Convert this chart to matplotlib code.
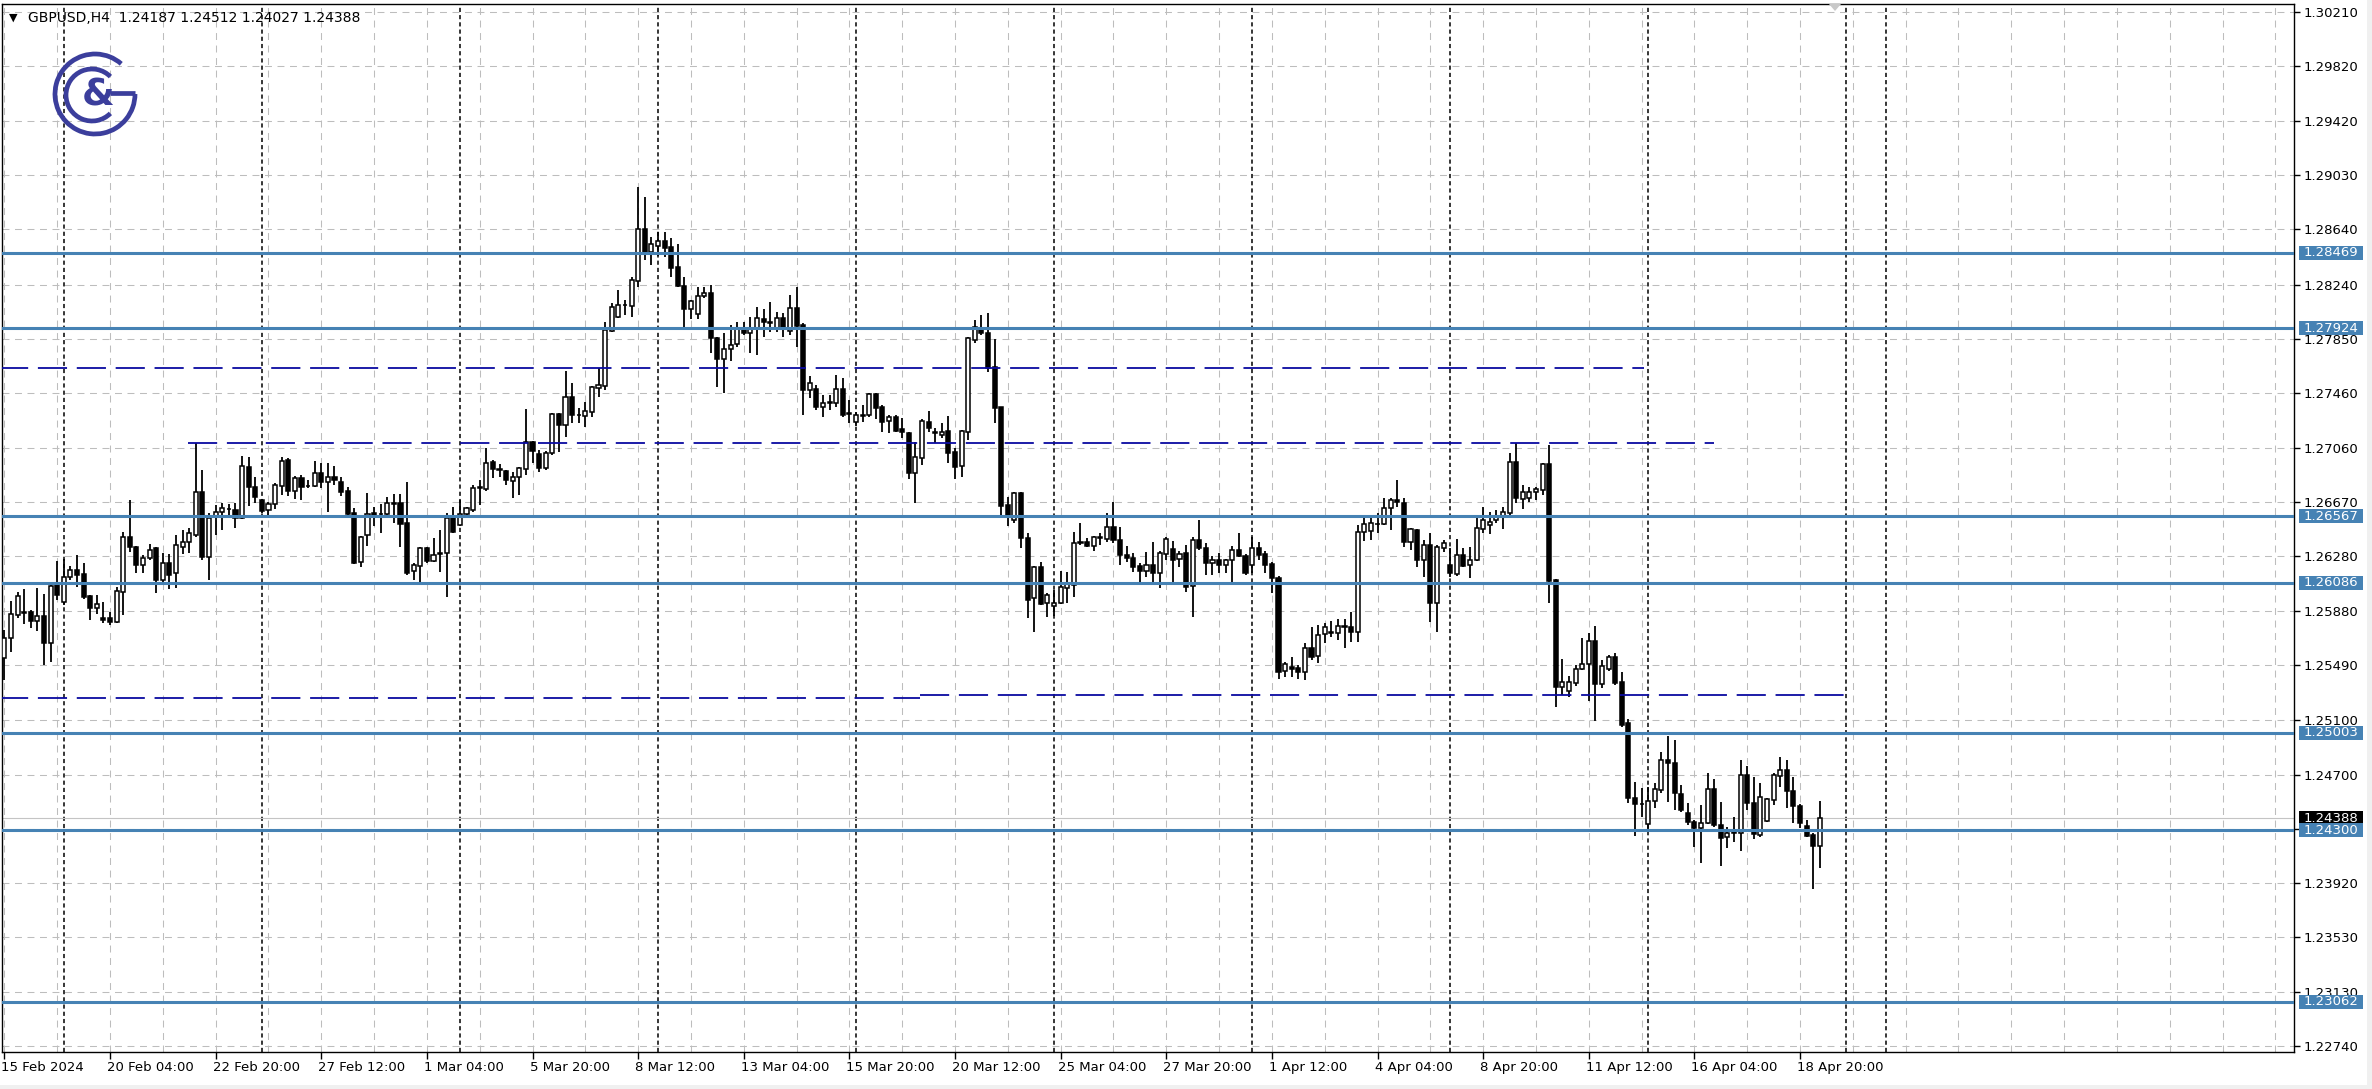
import matplotlib
matplotlib.use("Agg")
import matplotlib.pyplot as plt
import matplotlib.transforms as mtrans
from matplotlib.patches import Rectangle, Arc, Polygon
import numpy as np

plt.rcParams['font.family'] = ['DejaVu Sans']
plt.rcParams['lines.scale_dashes'] = False

# ---------------- data (GBPUSD H4) ----------------
opens = [
1.25542, 1.25691, 1.25855, 1.25876, 1.25876, 1.25811, 1.25847, 1.25655, 1.26076, 1.25951,
1.26131, 1.26179, 1.26151, 1.25992, 1.25908, 1.25835, 1.25831, 1.25807, 1.26023, 1.26420,
1.26348, 1.26216, 1.26264, 1.26341, 1.26107, 1.26228, 1.26155, 1.26348, 1.26384, 1.26432,
1.26745, 1.26276, 1.26564, 1.26601, 1.26617, 1.26613, 1.26552, 1.26925, 1.26776, 1.26685,
1.26613, 1.26656, 1.26788, 1.26973, 1.26752, 1.26841, 1.26788, 1.26786, 1.26882, 1.26817,
1.26848, 1.26817, 1.26752, 1.26589, 1.26235, 1.26432, 1.26589, 1.26581, 1.26584, 1.26658,
1.26661, 1.26516, 1.26172, 1.26208, 1.26336, 1.26247, 1.26297, 1.26300, 1.26552, 1.26504,
1.26584, 1.26613, 1.26781, 1.26764, 1.26959, 1.26908, 1.26896, 1.26824, 1.26848, 1.26908,
1.27101, 1.27017, 1.26913, 1.27022, 1.27303, 1.27226, 1.27431, 1.27301, 1.27291, 1.27322,
1.27491, 1.27508, 1.27907, 1.28008, 1.28090, 1.28085, 1.28268, 1.28638, 1.28477, 1.28518,
1.28554, 1.28508, 1.28364, 1.28232, 1.28061, 1.28027, 1.28157, 1.28181, 1.27852, 1.27700,
1.27775, 1.27811, 1.27929, 1.27893, 1.27921, 1.27991, 1.27970, 1.27917, 1.27996, 1.27907,
1.28068, 1.27948, 1.27479, 1.27484, 1.27354, 1.27390, 1.27382, 1.27484, 1.27315, 1.27250,
1.27298, 1.27298, 1.27450, 1.27354, 1.27257, 1.27281, 1.27195, 1.27171, 1.26882, 1.26985,
1.27250, 1.27176, 1.27154, 1.27185, 1.27034, 1.26930, 1.27178, 1.27840, 1.27924, 1.27893,
1.27647, 1.27354, 1.26646, 1.26540, 1.26733, 1.26408, 1.25975, 1.26199, 1.25939, 1.25920,
1.25939, 1.26047, 1.26071, 1.26379, 1.26384, 1.26355, 1.26418, 1.26401, 1.26487, 1.26396,
1.26288, 1.26264, 1.26208, 1.26175, 1.26216, 1.26155, 1.26295, 1.26329, 1.26256, 1.26300,
1.26064, 1.26396, 1.26336, 1.26228, 1.26252, 1.26216, 1.26252, 1.26324, 1.26280, 1.26216,
1.26336, 1.26295, 1.26223, 1.26124, 1.25453, 1.25482, 1.25474, 1.25446, 1.25614, 1.25559,
1.25717, 1.25730, 1.25722, 1.25773, 1.25766, 1.25734, 1.26456, 1.26463, 1.26509, 1.26509,
1.26625, 1.26685, 1.26665, 1.26384, 1.26468, 1.26252, 1.26360, 1.25939, 1.26336, 1.26216,
1.26151, 1.26288, 1.26216, 1.26252, 1.26473, 1.26504, 1.26540, 1.26564, 1.26593, 1.26957,
1.26690, 1.26697, 1.26740, 1.26757, 1.26945, 1.26107, 1.25333, 1.25308, 1.25361, 1.25462,
1.25501, 1.25667, 1.25357, 1.25462, 1.25549, 1.25373, 1.25073, 1.24536, 1.24493, 1.24346,
1.24514, 1.24591, 1.24808, 1.24784, 1.24563, 1.24428, 1.24363, 1.24315, 1.24351, 1.24596,
1.24339, 1.24250, 1.24286, 1.24284, 1.24700, 1.24500, 1.24267, 1.24370, 1.24519, 1.24693,
1.24736, 1.24587, 1.24476, 1.24332, 1.24267, 1.24187]

highs = [
1.25746, 1.25956, 1.26018, 1.26040, 1.25891, 1.26052, 1.26004, 1.26071, 1.26244, 1.26256,
1.26211, 1.26288, 1.26228, 1.25999, 1.25999, 1.25951, 1.25879, 1.26059, 1.26456, 1.26685,
1.26355, 1.26288, 1.26367, 1.26348, 1.26300, 1.26295, 1.26432, 1.26468, 1.26480, 1.27099,
1.26901, 1.26589, 1.26649, 1.26661, 1.26656, 1.26661, 1.27002, 1.26993, 1.26853, 1.26692,
1.26673, 1.26805, 1.26993, 1.26986, 1.26858, 1.26865, 1.26829, 1.26966, 1.26954, 1.26949,
1.26930, 1.26848, 1.26776, 1.26625, 1.26425, 1.26733, 1.26637, 1.26656, 1.26709, 1.26728,
1.26728, 1.26817, 1.26228, 1.26348, 1.26348, 1.26408, 1.26468, 1.26589, 1.26637, 1.26685,
1.26637, 1.26793, 1.26829, 1.27058, 1.26973, 1.26942, 1.26901, 1.26889, 1.26925, 1.27342,
1.27111, 1.27046, 1.27038, 1.27315, 1.27310, 1.27616, 1.27527, 1.27346, 1.27394, 1.27508,
1.27635, 1.27972, 1.28104, 1.28200, 1.28128, 1.28297, 1.28942, 1.28869, 1.28585, 1.28622,
1.28622, 1.28573, 1.28533, 1.28292, 1.28128, 1.28220, 1.28220, 1.28237, 1.27864, 1.27888,
1.27948, 1.27972, 1.27972, 1.28008, 1.28080, 1.28061, 1.28116, 1.28044, 1.28037, 1.28164,
1.28225, 1.27960, 1.27580, 1.27515, 1.27443, 1.27443, 1.27587, 1.27563, 1.27407, 1.27322,
1.27370, 1.27459, 1.27459, 1.27370, 1.27298, 1.27298, 1.27274, 1.27178, 1.27106, 1.27267,
1.27329, 1.27202, 1.27238, 1.27291, 1.27058, 1.27190, 1.27864, 1.27984, 1.28020, 1.28032,
1.27844, 1.27358, 1.26709, 1.26745, 1.26745, 1.26444, 1.26208, 1.26240, 1.26011, 1.26035,
1.26172, 1.26167, 1.26456, 1.26516, 1.26408, 1.26425, 1.26449, 1.26588, 1.26673, 1.26492,
1.26353, 1.26300, 1.26228, 1.26312, 1.26384, 1.26319, 1.26415, 1.26391, 1.26319, 1.26360,
1.26420, 1.26540, 1.26372, 1.26280, 1.26300, 1.26256, 1.26353, 1.26444, 1.26295, 1.26420,
1.26384, 1.26319, 1.26240, 1.26136, 1.25518, 1.25554, 1.25494, 1.25650, 1.25770, 1.25782,
1.25794, 1.25814, 1.25823, 1.25823, 1.25879, 1.26504, 1.26552, 1.26552, 1.26588, 1.26697,
1.26697, 1.26829, 1.26697, 1.26485, 1.26473, 1.26396, 1.26444, 1.26360, 1.26396, 1.26336,
1.26401, 1.26336, 1.26348, 1.26552, 1.26637, 1.26600, 1.26613, 1.26637, 1.27026, 1.27094,
1.26793, 1.26776, 1.26781, 1.26949, 1.27082, 1.26112, 1.25535, 1.25414, 1.25494, 1.25686,
1.25727, 1.25775, 1.25530, 1.25566, 1.25583, 1.25446, 1.25102, 1.24652, 1.24603, 1.24616,
1.24644, 1.24868, 1.24981, 1.24952, 1.24628, 1.24495, 1.24375, 1.24483, 1.24717, 1.24668,
1.24507, 1.24327, 1.24394, 1.24808, 1.24765, 1.24688, 1.24644, 1.24531, 1.24712, 1.24832,
1.24808, 1.24683, 1.24490, 1.24375, 1.24284, 1.24512]

lows = [
1.25386, 1.25590, 1.25831, 1.25787, 1.25758, 1.25739, 1.25494, 1.25518, 1.25963, 1.25927,
1.26107, 1.26059, 1.25970, 1.25819, 1.25859, 1.25799, 1.25782, 1.25795, 1.25855, 1.26312,
1.26155, 1.26155, 1.26252, 1.26016, 1.26071, 1.26040, 1.26047, 1.26295, 1.26300, 1.26420,
1.26252, 1.26107, 1.26432, 1.26468, 1.26552, 1.26480, 1.26545, 1.26641, 1.26661, 1.26589,
1.26564, 1.26617, 1.26721, 1.26714, 1.26692, 1.26685, 1.26769, 1.26781, 1.26769, 1.26596,
1.26793, 1.26714, 1.26560, 1.26223, 1.26204, 1.26355, 1.26497, 1.26444, 1.26569, 1.26521,
1.26348, 1.26143, 1.26107, 1.26095, 1.26232, 1.26235, 1.26167, 1.25987, 1.26444, 1.26497,
1.26552, 1.26600, 1.26649, 1.26752, 1.26841, 1.26848, 1.26793, 1.26697, 1.26721, 1.26865,
1.26949, 1.26889, 1.26901, 1.27010, 1.27034, 1.27142, 1.27238, 1.27238, 1.27214, 1.27286,
1.27431, 1.27479, 1.27900, 1.27996, 1.28020, 1.28008, 1.28225, 1.28417, 1.28381, 1.28446,
1.28441, 1.28297, 1.28225, 1.27936, 1.27989, 1.27989, 1.28140, 1.27748, 1.27503, 1.27455,
1.27690, 1.27791, 1.27876, 1.27748, 1.27731, 1.27859, 1.27900, 1.27900, 1.27864, 1.27876,
1.27791, 1.27298, 1.27419, 1.27334, 1.27286, 1.27334, 1.27358, 1.27286, 1.27238, 1.27219,
1.27250, 1.27286, 1.27267, 1.27178, 1.27171, 1.27178, 1.27130, 1.26834, 1.26665, 1.26937,
1.27178, 1.27094, 1.27130, 1.26949, 1.26834, 1.26853, 1.27118, 1.27816, 1.27876, 1.27611,
1.27238, 1.26564, 1.26497, 1.26516, 1.26336, 1.25831, 1.25734, 1.25927, 1.25843, 1.25847,
1.25934, 1.25939, 1.25987, 1.26360, 1.26348, 1.26319, 1.26360, 1.26384, 1.26372, 1.26216,
1.26240, 1.26167, 1.26071, 1.26131, 1.26071, 1.26047, 1.26252, 1.26095, 1.26199, 1.26023,
1.25843, 1.26324, 1.26143, 1.26143, 1.26155, 1.26160, 1.26083, 1.26271, 1.26143, 1.26155,
1.26252, 1.26155, 1.26011, 1.25390, 1.25410, 1.25410, 1.25390, 1.25385, 1.25530, 1.25511,
1.25655, 1.25698, 1.25674, 1.25614, 1.25662, 1.25662, 1.26391, 1.26396, 1.26449, 1.26504,
1.26468, 1.26632, 1.26348, 1.26324, 1.26203, 1.26131, 1.25806, 1.25734, 1.26312, 1.26131,
1.26136, 1.26199, 1.26119, 1.26247, 1.26444, 1.26439, 1.26516, 1.26473, 1.26560, 1.26661,
1.26617, 1.26673, 1.26685, 1.26721, 1.25939, 1.25188, 1.25277, 1.25265, 1.25342, 1.25458,
1.25236, 1.25092, 1.25325, 1.25453, 1.25349, 1.25049, 1.24500, 1.24259, 1.24394, 1.24303,
1.24459, 1.24567, 1.24507, 1.24447, 1.24435, 1.24339, 1.24182, 1.24062, 1.24346, 1.24327,
1.24043, 1.24170, 1.24219, 1.24154, 1.24447, 1.24235, 1.24250, 1.24363, 1.24483, 1.24616,
1.24459, 1.24356, 1.24315, 1.24250, 1.23874, 1.24027]

closes = [
1.25686, 1.25859, 1.25992, 1.25867, 1.25814, 1.25847, 1.25655, 1.26064, 1.25999, 1.26131,
1.26179, 1.26143, 1.25982, 1.25903, 1.25932, 1.25819, 1.25807, 1.26028, 1.26420, 1.26348,
1.26216, 1.26264, 1.26324, 1.26107, 1.26228, 1.26143, 1.26360, 1.26384, 1.26444, 1.26745,
1.26276, 1.26557, 1.26596, 1.26625, 1.26622, 1.26552, 1.26933, 1.26776, 1.26709, 1.26605,
1.26656, 1.26793, 1.26966, 1.26752, 1.26841, 1.26776, 1.26783, 1.26882, 1.26812, 1.26848,
1.26829, 1.26745, 1.26584, 1.26232, 1.26420, 1.26581, 1.26574, 1.26586, 1.26661, 1.26661,
1.26512, 1.26160, 1.26216, 1.26336, 1.26247, 1.26288, 1.26302, 1.26552, 1.26456, 1.26584,
1.26625, 1.26769, 1.26769, 1.26954, 1.26908, 1.26901, 1.26829, 1.26853, 1.26913, 1.27101,
1.27041, 1.26913, 1.27026, 1.27305, 1.27226, 1.27431, 1.27298, 1.27296, 1.27330, 1.27498,
1.27515, 1.27912, 1.28080, 1.28092, 1.28095, 1.28273, 1.28638, 1.28477, 1.28533, 1.28554,
1.28506, 1.28362, 1.28229, 1.28061, 1.28123, 1.28160, 1.28181, 1.27852, 1.27700, 1.27775,
1.27806, 1.27924, 1.27893, 1.27924, 1.27996, 1.27972, 1.27965, 1.27996, 1.27917, 1.28068,
1.27941, 1.27479, 1.27532, 1.27354, 1.27387, 1.27385, 1.27484, 1.27298, 1.27305, 1.27298,
1.27293, 1.27450, 1.27346, 1.27250, 1.27281, 1.27185, 1.27178, 1.26882, 1.26993, 1.27257,
1.27202, 1.27171, 1.27178, 1.27026, 1.26925, 1.27183, 1.27852, 1.27931, 1.27888, 1.27635,
1.27346, 1.26641, 1.26576, 1.26733, 1.26408, 1.25963, 1.26199, 1.25934, 1.25999, 1.25944,
1.26054, 1.26078, 1.26372, 1.26374, 1.26355, 1.26415, 1.26413, 1.26487, 1.26396, 1.26288,
1.26264, 1.26199, 1.26175, 1.26216, 1.26155, 1.26300, 1.26401, 1.26252, 1.26295, 1.26059,
1.26396, 1.26336, 1.26228, 1.26252, 1.26216, 1.26252, 1.26324, 1.26280, 1.26155, 1.26336,
1.26288, 1.26216, 1.26119, 1.25446, 1.25501, 1.25462, 1.25446, 1.25614, 1.25554, 1.25710,
1.25766, 1.25725, 1.25775, 1.25768, 1.25734, 1.26456, 1.26511, 1.26521, 1.26514, 1.26625,
1.26685, 1.26668, 1.26384, 1.26473, 1.26252, 1.26360, 1.25939, 1.26343, 1.26372, 1.26155,
1.26288, 1.26208, 1.26252, 1.26480, 1.26540, 1.26528, 1.26569, 1.26600, 1.26957, 1.26697,
1.26745, 1.26740, 1.26764, 1.26945, 1.26102, 1.25333, 1.25369, 1.25373, 1.25462, 1.25499,
1.25667, 1.25357, 1.25487, 1.25554, 1.25361, 1.25061, 1.24531, 1.24490, 1.24488, 1.24514,
1.24596, 1.24808, 1.24784, 1.24567, 1.24447, 1.24363, 1.24315, 1.24356, 1.24596, 1.24339,
1.24243, 1.24284, 1.24281, 1.24700, 1.24500, 1.24274, 1.24539, 1.24524, 1.24700, 1.24736,
1.24584, 1.24476, 1.24356, 1.24259, 1.24187, 1.24388]

date_labels = ['15 Feb 2024', '20 Feb 04:00', '22 Feb 20:00', '27 Feb 12:00', '1 Mar 04:00',
               '5 Mar 20:00', '8 Mar 12:00', '13 Mar 04:00', '15 Mar 20:00', '20 Mar 12:00',
               '25 Mar 04:00', '27 Mar 20:00', '1 Apr 12:00', '4 Apr 04:00', '8 Apr 20:00',
               '11 Apr 12:00', '16 Apr 04:00', '18 Apr 20:00']
bars_per_label = 16

price_ticks = [1.30210, 1.29820, 1.29420, 1.29030, 1.28640, 1.28240, 1.27850, 1.27460,
               1.27060, 1.26670, 1.26280, 1.25880, 1.25490, 1.25100, 1.24700, 1.24310,
               1.23920, 1.23530, 1.23130, 1.22740]

level_prices = [1.28469, 1.27924, 1.26567, 1.26086, 1.25003, 1.24300, 1.23062]

dashed_prices = [1.27635, 1.27099, 1.25258, 1.25277]
dashed_from_bar = [-1.0, 27.8, -1.0, 138.7]
dashed_to_bar = [248.4, 259.0, 138.7, 279.4]

week_start_bars = [9, 39, 69, 99, 129, 159, 189, 219, 249, 279]
extra_vline_bar = 285

last_price = 1.24388
title_text = 'GBPUSD,H4  1.24187 1.24512 1.24027 1.24388'

# ---------------- layout (pixels) ----------------
W, H, DPI = 2372, 1089, 100
AX_L, AX_R, AX_T, AX_B = 1.5, 2294.0, 4.0, 1052.0
BAR_PX = 6.6016
BAR0_PX = 4.4
Y_LO, Y_HI = 1.22700, 1.30265

fig = plt.figure(figsize=(W / DPI, H / DPI), dpi=DPI)
fig.patch.set_facecolor('white')
ax = fig.add_axes([AX_L / W, 1 - AX_B / H, (AX_R - AX_L) / W, (AX_B - AX_T) / H])
ax.set_facecolor('white')
ax.set_xlim((AX_L - BAR0_PX) / BAR_PX, (AX_R - BAR0_PX) / BAR_PX)
ax.set_ylim(Y_LO, Y_HI)
px_per_price = (AX_B - AX_T) / (Y_HI - Y_LO)

# grid
grid_kw = dict(color='#bdbdbd', lw=0.75, linestyle=(0, (5.0, 4.0)), zorder=1)
for gx in range(0, 348, 8):
    ax.axvline(gx, **grid_kw)
for gy in price_ticks:
    ax.axhline(gy, **grid_kw)

# weekly separators
sep_kw = dict(color='black', lw=1.1, linestyle=(0, (3.0, 2.2)), zorder=1.5)
for sx in week_start_bars:
    ax.axvline(sx, **sep_kw)
ax.axvline(extra_vline_bar, **sep_kw)

# current price line
ax.axhline(last_price, color='#c4c4c4', lw=0.8, zorder=1.6)

# candles
n = min(len(opens), len(highs), len(lows), len(closes))
idx = np.arange(n)
o = np.array(opens[:n]); h = np.array(highs[:n]); l = np.array(lows[:n]); c = np.array(closes[:n])
up = c >= o
ax.vlines(idx, l, h, color='black', lw=1.3, zorder=3)
lo_body = np.minimum(o, c)
hb = np.maximum(np.abs(c - o), 0.00002)
ax.bar(idx[up], hb[up], bottom=lo_body[up], width=0.62, color='white',
       edgecolor='black', linewidth=1.1, zorder=4)
ax.bar(idx[~up], hb[~up], bottom=lo_body[~up], width=0.62, color='black',
       edgecolor='black', linewidth=1.1, zorder=4)

# horizontal levels
LEVEL_COLOR = '#4682B4'
for p in level_prices:
    ax.axhline(p, color=LEVEL_COLOR, lw=2.2, zorder=5)

# dashed trend levels
for p, a, b in zip(dashed_prices, dashed_from_bar, dashed_to_bar):
    ax.plot([a, b], [p, p], color='#0a0aa0', lw=1.3, linestyle=(0, (21, 7)), zorder=5)

# axes styling
for s in ax.spines.values():
    s.set_color('black')
    s.set_linewidth(1.0)
ax.yaxis.tick_right()
ax.set_yticks(price_ticks)
ax.set_yticklabels(['%.5f' % v for v in price_ticks])
ax.tick_params(axis='y', direction='out', length=4, width=1, pad=3, labelsize=9.5,
               right=True, left=False, colors='black')
xt = [i * bars_per_label for i in range(len(date_labels))]
ax.set_xticks(xt)
ax.set_xticklabels(date_labels, ha='left')
ax.tick_params(axis='x', direction='out', length=5, width=1, pad=1.5, labelsize=9.5)
shift = mtrans.ScaledTranslation(-3 / DPI, 0, fig.dpi_scale_trans)
for lab in ax.get_xticklabels():
    lab.set_transform(lab.get_transform() + shift)

# right-hand price labels
blend = mtrans.blended_transform_factory(fig.transFigure, ax.transData)
box_h = 14.0 / px_per_price
def price_tag(p, face, z):
    ax.add_patch(Rectangle((2299 / W, p - box_h / 2), 64 / W, box_h, transform=blend,
                           facecolor=face, edgecolor='none', clip_on=False, zorder=z))
    ax.text(2331 / W, p, '%.5f' % p, transform=blend, ha='center', va='center',
            color='white', fontsize=9.5, clip_on=False, zorder=z + 0.1)

price_tag(last_price, 'black', 10)
for p in level_prices:
    price_tag(p, LEVEL_COLOR, 11)

# title
fig.text(28 / W, 1 - 18 / H, title_text, fontsize=10, ha='left', va='center', color='black')
fig.text(13 / W, 1 - 18 / H, '\u25BC', fontsize=8, ha='center', va='center', color='black')

# overlay for logo, chart-shift marker and window border
ov = fig.add_axes([0, 0, 1, 1], zorder=5)
ov.set_xlim(0, W)
ov.set_ylim(0, H)
ov.axis('off')
ov.patch.set_alpha(0)
LOGO = '#3b3e9c'
cx, cy = 95, H - 94
ov.add_patch(Arc((cx, cy), 80, 80, theta1=49, theta2=360, color=LOGO, lw=3.4))
ov.plot([110, 135], [cy + 1.5, cy + 1.5], color=LOGO, lw=3.4, solid_capstyle='butt')
ov.add_patch(Arc((cx - 3, cy - 1), 52, 52, theta1=45, theta2=315, color=LOGO, lw=3.4))
ov.text(cx + 3, cy - 1, '&', fontsize=27, fontweight='bold', color=LOGO, ha='center', va='center')
ov.add_patch(Polygon([[1829, H - 4], [1841, H - 4], [1835, H - 11]], closed=True,
                     facecolor='#c8c8c8', edgecolor='none'))
ov.add_patch(Rectangle((2367, 0), 5, H, facecolor='#f0f0f0', edgecolor='none'))
ov.add_patch(Rectangle((0, 0), W, 4, facecolor='#f0f0f0', edgecolor='none'))

fig.savefig('out.png', dpi=DPI, facecolor='white')
